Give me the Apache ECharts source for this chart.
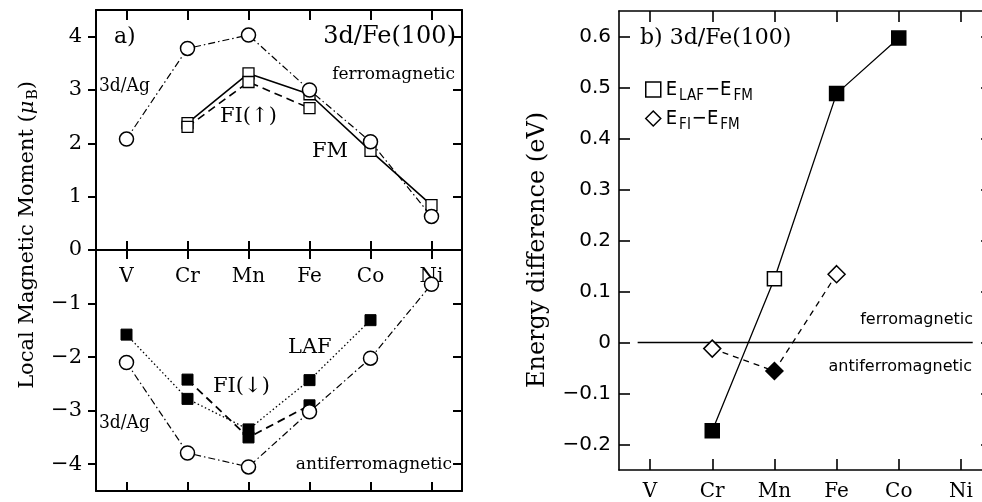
<!DOCTYPE html>
<html><head><meta charset="utf-8">
<script src="https://cdn.jsdelivr.net/npm/echarts@6/dist/echarts.min.js"></script>
<style>html,body{margin:0;padding:0;background:#fff}#c{width:982px;height:502px}</style>
</head><body><div id="c"></div>
<script>
// ---------- data ----------
const elements = ['V', 'Cr', 'Mn', 'Fe', 'Co', 'Ni'];
// panel a: ferromagnetic (positive) side
const agUp   = [2.08, 3.78, 4.03, 3.00, 2.03, 0.63];
const fmUp   = [null, 2.38, 3.31, 2.92, 1.86, 0.84];
const fiUp   = [null, 2.31, 3.15, 2.66, null, null];
// panel a: antiferromagnetic (negative) side
const agDown  = [-2.10, -3.79, -4.05, -3.02, -2.02, -0.64];
const lafDown = [-1.58, -2.78, -3.35, -2.43, -1.31, null];
const fiDown  = [null, -2.42, -3.50, -2.90, null, null];
// panel b: energy differences (eV)
const eLAF = [null, -0.173, 0.125, 0.488, 0.597, null];
const eFI  = [null, -0.012, -0.056, 0.134, null, null];
const lafFilled = [false, true, false, true, true, false];
const fiFilled  = [false, false, true, false, false, false];
const zeroRef = [[-0.2, 0], [5.19, 0]];
// tick labels
const ticksAUp   = [0, 1, 2, 3, 4];
const ticksADown = [-4, -3, -2, -1];
const ticksB     = [-0.2, -0.1, 0, 0.1, 0.2, 0.3, 0.4, 0.5, 0.6];

// ---------- styles ----------
const SERIF = 'DejaVu Serif';
const SANS = 'DejaVu Sans';
const BLACK = '#000';

function catAxis(grid, pos, o) {
  return {
    type: 'category', data: elements, gridIndex: grid, position: pos, boundaryGap: true,
    axisLine: {show: true, onZero: false, lineStyle: {color: BLACK, width: o.lw || 2}},
    axisTick: {show: true, inside: true, length: o.tl || 10, alignWithLabel: true,
               lineStyle: {color: BLACK, width: o.tw || 2}},
    axisLabel: o.label ? Object.assign({show: true, color: BLACK, fontFamily: SERIF, fontSize: 20}, o.label) : {show: false},
    splitLine: {show: false}
  };
}
function valAxis(grid, pos, min, max, ticks, o) {
  return {
    type: 'value', gridIndex: grid, position: pos, min: min, max: max,
    axisLine: {show: true, onZero: false, lineStyle: {color: BLACK, width: o.lw || 2}},
    axisTick: {show: true, inside: !!o.inside, length: o.tl || 9, customValues: ticks,
               lineStyle: {color: BLACK, width: o.tw || 2}},
    axisLabel: o.label ? Object.assign({show: true, color: BLACK, customValues: ticks}, o.label) : {show: false},
    splitLine: {show: false}
  };
}
const fmtA = v => (v < 0 ? '\u2212' + Math.abs(v) : String(v));
const fmtB = v => (Math.abs(v) < 1e-9 ? '0' : (v < 0 ? '\u2212' : '') + Math.abs(v).toFixed(1));

const openCircle = {color: '#fff', borderColor: BLACK, borderWidth: 1.5};
const openSq = {color: '#fff', borderColor: BLACK, borderWidth: 1.3};
const fillSq = {color: BLACK, borderColor: BLACK, borderWidth: 1};

function lineSeries(name, xi, yi, data, symbol, size, item, line, z) {
  return {
    name: name, type: 'line', xAxisIndex: xi, yAxisIndex: yi, data: data,
    symbol: symbol, symbolSize: size, showAllSymbol: true, itemStyle: item,
    lineStyle: Object.assign({color: BLACK}, line), z: z || 2, animation: false,
    emphasis: {disabled: true}
  };
}
function styledData(vals, filled) {
  return vals.map((v, i) => v === null ? null : {
    value: v,
    itemStyle: filled[i] ? {color: BLACK, borderColor: BLACK} : {color: '#fff', borderColor: BLACK}
  });
}

const dashDot = [7, 3, 1.5, 3];

const option = {
  backgroundColor: '#fff',
  animation: false,
  grid: [
    {left: 96, top: 10, width: 366, height: 240, outerBoundsMode: 'none', containLabel: false},
    {left: 96, top: 250, width: 366, height: 241, outerBoundsMode: 'none', containLabel: false},
    {left: 619, top: 11, width: 373, height: 459, outerBoundsMode: 'none', containLabel: false}
  ],
  xAxis: [
    catAxis(0, 'top', {tl: 10}),
    catAxis(0, 'bottom', {tl: 9, lw: 2}),
    catAxis(1, 'top', {tl: 9, lw: 2, label: {inside: true, margin: 17}}),
    catAxis(1, 'bottom', {tl: 9}),
    catAxis(2, 'bottom', {tl: 11, lw: 1.6, tw: 1.6, label: {margin: 12}}),
    catAxis(2, 'top', {tl: 11, lw: 1.6, tw: 1.6}),
    {type: 'value', gridIndex: 2, min: -0.5, max: 5.5, show: false}
  ],
  yAxis: [
    valAxis(0, 'left', 0, 4.5, ticksAUp, {tl: 8, label: {fontFamily: SERIF, fontSize: 21, formatter: fmtA, margin: 14}}),
    valAxis(0, 'right', 0, 4.5, [1, 2, 3, 4], {tl: 9, inside: true}),
    valAxis(1, 'left', -4.5, 0, ticksADown, {tl: 8, label: {fontFamily: SERIF, fontSize: 21, formatter: fmtA, margin: 14}}),
    valAxis(1, 'right', -4.5, 0, ticksADown, {tl: 9, inside: true}),
    valAxis(2, 'left', -0.25, 0.65, ticksB, {tl: 11, inside: true, lw: 1.6, tw: 1.6,
      label: {fontFamily: SANS, fontSize: 20, formatter: fmtB, margin: 8}}),
    valAxis(2, 'right', -0.25, 0.65, ticksB, {tl: 11, inside: true, lw: 1.6, tw: 1.6})
  ],
  legend: {
    show: true, orient: 'vertical', left: 640, top: 70, itemWidth: 15, itemHeight: 15, itemGap: 0,
    selectedMode: false,
    data: [{name: 'LAF-FM', icon: 'rect'}, {name: 'FI-FM', icon: 'diamond'}],
    itemStyle: {color: '#fff', borderColor: BLACK, borderWidth: 1.5},
    formatter: n => n === 'LAF-FM' ? '{e|E}{s|LAF}{e|\u2212E}{s|FM}' : '{e|E}{s|FI}{e|\u2212E}{s|FM}',
    textStyle: {
      rich: {
        e: {fontFamily: 'DejaVu Sans Condensed', fontSize: 20, lineHeight: 20, color: BLACK},
        s: {fontFamily: 'DejaVu Sans Condensed', fontSize: 15, lineHeight: 14, color: BLACK, padding: [14, 1, 0, 2]}
      }
    }
  },
  series: [
    // panel a, positive
    lineSeries('Ag up', 1, 0, agUp, 'circle', 14, openCircle, {width: 1.2, type: dashDot}, 3),
    lineSeries('FM up', 1, 0, fmUp, 'rect', 11, openSq, {width: 1.6}, 2),
    lineSeries('FI up', 1, 0, fiUp, 'rect', 11, openSq, {width: 1.6, type: [8, 5]}, 2),
    // panel a, negative
    lineSeries('Ag down', 2, 2, agDown, 'circle', 14, openCircle, {width: 1.2, type: dashDot}, 3),
    lineSeries('LAF down', 2, 2, lafDown, 'rect', 11, fillSq, {width: 1.3, type: [1.5, 2.5]}, 2),
    lineSeries('FI down', 2, 2, fiDown, 'rect', 11, fillSq, {width: 1.8, type: [8, 5]}, 2),
    // panel b
    {type: 'line', name: 'zero', xAxisIndex: 6, yAxisIndex: 4, data: zeroRef, symbol: 'none',
     lineStyle: {color: BLACK, width: 1.3}, z: 1, animation: false, emphasis: {disabled: true}},
    lineSeries('LAF-FM', 4, 4, styledData(eLAF, lafFilled), 'rect', 14,
      {color: '#fff', borderColor: BLACK, borderWidth: 1.5}, {width: 1.3}, 3),
    lineSeries('FI-FM', 4, 4, styledData(eFI, fiFilled), 'diamond', [17, 17],
      {color: '#fff', borderColor: BLACK, borderWidth: 1.5}, {width: 1.3, type: [6, 5]}, 3)
  ],
  graphic: [
    {type: 'text', x: 28, y: 235, rotation: Math.PI / 2,
     style: {text: 'Local Magnetic Moment ({m|\u03bc}{s|B})', fill: BLACK, font: '21px "DejaVu Serif"',
             align: 'center', verticalAlign: 'middle',
             rich: {m: {fontFamily: SERIF, fontSize: 21, fontStyle: 'italic'}, s: {fontFamily: SERIF, fontSize: 14, padding: [11, 0, 0, 1]}}}},
    {type: 'text', x: 538, y: 250, rotation: Math.PI / 2,
     style: {text: 'Energy difference (eV)', fill: BLACK, font: '24px "DejaVu Serif"', align: 'center', verticalAlign: 'middle'}},
    {type: 'text', x: 114, y: 37, style: {text: 'a)', fill: BLACK, font: '22px "DejaVu Serif"', verticalAlign: 'middle'}},
    {type: 'text', x: 456, y: 37, style: {text: '3d/Fe(100)', fill: BLACK, font: '24px "DejaVu Serif"', align: 'right', verticalAlign: 'middle'}},
    {type: 'text', x: 455, y: 75, style: {text: 'ferromagnetic', fill: BLACK, font: '17px "DejaVu Serif"', align: 'right', verticalAlign: 'middle'}},
    {type: 'text', x: 99, y: 86, style: {text: '3d/Ag', fill: BLACK, font: '19px "DejaVu Serif Condensed"', verticalAlign: 'middle'}},
    {type: 'text', x: 220, y: 117, style: {text: 'FI(\u2191)', fill: BLACK, font: '21px "DejaVu Serif"', verticalAlign: 'middle'}},
    {type: 'text', x: 312, y: 152, style: {text: 'FM', fill: BLACK, font: '21px "DejaVu Serif"', verticalAlign: 'middle'}},
    {type: 'text', x: 288, y: 348, style: {text: 'LAF', fill: BLACK, font: '21px "DejaVu Serif"', verticalAlign: 'middle'}},
    {type: 'text', x: 213, y: 387, style: {text: 'FI(\u2193)', fill: BLACK, font: '21px "DejaVu Serif"', verticalAlign: 'middle'}},
    {type: 'text', x: 99, y: 423, style: {text: '3d/Ag', fill: BLACK, font: '19px "DejaVu Serif Condensed"', verticalAlign: 'middle'}},
    {type: 'text', x: 452, y: 465, style: {text: 'antiferromagnetic', fill: BLACK, font: '17px "DejaVu Serif"', align: 'right', verticalAlign: 'middle'}},
    {type: 'text', x: 640, y: 38, style: {text: 'b) 3d/Fe(100)', fill: BLACK, font: '22px "DejaVu Serif"', verticalAlign: 'middle'}},
    {type: 'text', x: 973, y: 320, style: {text: 'ferromagnetic', fill: BLACK, font: '16px "DejaVu Sans"', align: 'right', verticalAlign: 'middle'}},
    {type: 'text', x: 972, y: 367, style: {text: 'antiferromagnetic', fill: BLACK, font: '16px "DejaVu Sans"', align: 'right', verticalAlign: 'middle'}}
  ]
};
const chart = echarts.init(document.getElementById('c'), null, {renderer: 'canvas'});
chart.setOption(option);
</script>
</body></html>
